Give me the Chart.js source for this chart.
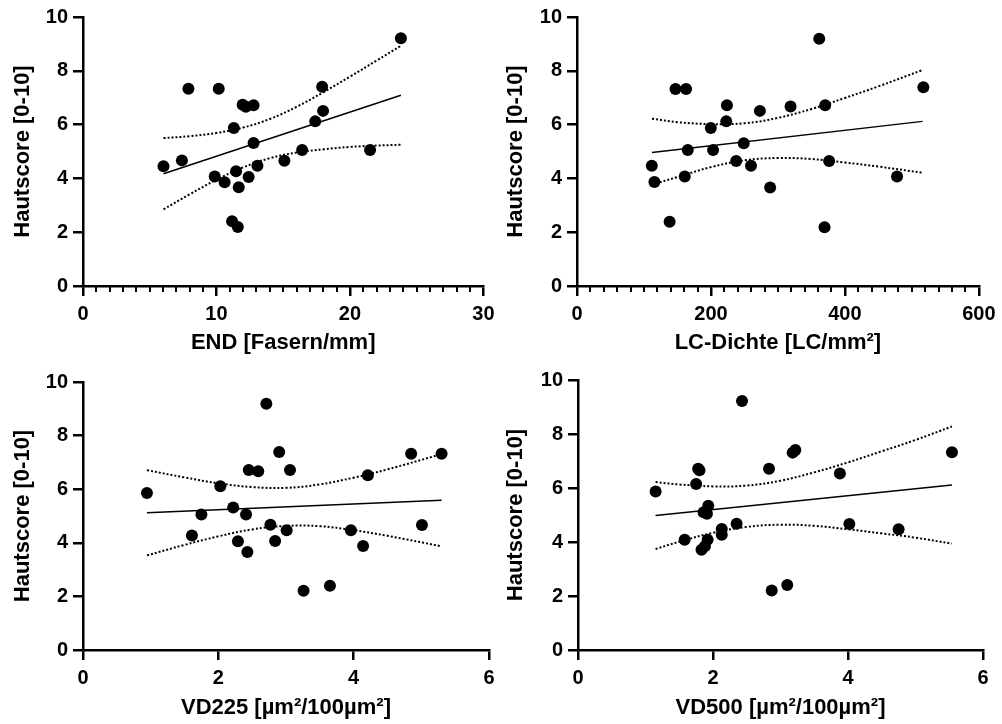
<!DOCTYPE html>
<html>
<head>
<meta charset="utf-8">
<script src="https://cdn.jsdelivr.net/npm/chart.js@4.4.1/dist/chart.umd.min.js"></script>
<style>
  html, body { margin: 0; padding: 0; background: #fff; }
  #wrap { position: relative; width: 1002px; height: 724px; }
  .panel { position: absolute; width: 501px; height: 362px; }
</style>
</head>
<body>
<div id="wrap">
  <div class="panel" style="left:0;top:0"><canvas id="c1" width="501" height="362"></canvas></div>
  <div class="panel" style="left:501px;top:0"><canvas id="c2" width="501" height="362"></canvas></div>
  <div class="panel" style="left:0;top:362px"><canvas id="c3" width="501" height="362"></canvas></div>
  <div class="panel" style="left:501px;top:362px"><canvas id="c4" width="501" height="362"></canvas></div>
</div>
<script>
// Hautscore vs. END
const endX = [6.03, 7.41, 7.90, 10.17, 9.87, 10.61, 11.30, 11.47, 11.67, 11.17, 11.60, 11.96, 12.21, 12.78, 12.78, 12.41, 13.07, 15.09, 16.42, 17.40, 17.92, 17.99, 21.51, 23.82];
const endScore = [4.45, 4.67, 7.33, 7.33, 4.07, 3.86, 5.87, 4.27, 3.67, 2.41, 2.19, 6.74, 6.66, 6.72, 5.32, 4.05, 4.47, 4.66, 5.06, 6.12, 7.41, 6.51, 5.06, 9.21];
const endFitX = [6.03, 23.82];
const endFitY = [4.17, 7.09];
const endBandX = [6.03, 8, 10, 12, 14, 16, 18, 20, 22, 23.82];
const endUpper = [5.50, 5.57, 5.69, 5.89, 6.21, 6.66, 7.20, 7.78, 8.38, 8.93];
const endLower = [2.85, 3.41, 3.95, 4.41, 4.75, 4.96, 5.08, 5.17, 5.22, 5.25];

// Hautscore vs. LC-Dichte
const lcX = [111.7, 115.6, 138.3, 147.1, 162.9, 160.9, 165.4, 199.8, 203.2, 223.9, 222.9, 237.7, 249.0, 259.8, 273.1, 288.4, 318.9, 361.7, 370.6, 369.6, 376.5, 477.9, 517.2];
const lcScore = [4.47, 3.87, 2.39, 7.32, 7.32, 4.07, 5.06, 5.87, 5.06, 6.72, 6.12, 4.65, 5.31, 4.47, 6.51, 3.66, 6.67, 9.19, 6.72, 2.18, 4.65, 4.07, 7.39];
const lcFitX = [112, 516];
const lcFitY = [4.96, 6.12];
const lcBandX = [112, 150, 200, 250, 300, 350, 400, 450, 516];
const lcUpper = [6.22, 6.09, 6.02, 6.05, 6.25, 6.58, 6.99, 7.42, 8.03];
const lcLower = [3.77, 4.05, 4.42, 4.67, 4.76, 4.72, 4.59, 4.44, 4.21];

// Hautscore vs. VD225
const vd225X = [0.945, 1.61, 1.75, 2.03, 2.22, 2.29, 2.43, 2.45, 2.41, 2.59, 2.71, 2.77, 2.90, 2.84, 3.01, 3.06, 3.26, 3.65, 3.96, 4.14, 4.21, 4.85, 5.01, 5.30];
const vd225Score = [5.86, 4.27, 5.06, 6.11, 5.32, 4.06, 3.66, 6.72, 5.06, 6.67, 9.19, 4.67, 7.39, 4.07, 4.47, 6.72, 2.21, 2.40, 4.47, 3.88, 6.52, 7.32, 4.66, 7.32];
const vd225FitX = [0.945, 5.30];
const vd225FitY = [5.12, 5.59];
const vd225BandX = [0.945, 1.5, 2, 2.5, 3, 3.5, 4, 4.5, 5.3];
const vd225Upper = [6.71, 6.44, 6.22, 6.08, 6.05, 6.18, 6.43, 6.74, 7.31];
const vd225Lower = [3.53, 3.92, 4.24, 4.50, 4.63, 4.62, 4.47, 4.26, 3.87];

// Hautscore vs. VD500
const vd500X = [1.15, 1.58, 1.75, 1.78, 1.80, 1.86, 1.91, 1.93, 1.92, 1.88, 1.83, 2.13, 2.13, 2.35, 2.43, 2.83, 2.87, 3.10, 3.18, 3.22, 3.88, 4.02, 4.75, 5.54];
const vd500Score = [5.87, 4.08, 6.15, 6.71, 6.66, 5.10, 5.05, 5.34, 4.08, 3.84, 3.71, 4.48, 4.27, 4.68, 9.22, 6.71, 2.20, 2.41, 7.31, 7.41, 6.54, 4.67, 4.47, 7.32];
const vd500FitX = [1.149, 5.54];
const vd500FitY = [4.98, 6.11];
const vd500BandX = [1.149, 1.5, 2, 2.5, 3, 3.5, 4, 4.5, 5, 5.54];
const vd500Upper = [6.22, 6.13, 6.06, 6.09, 6.27, 6.58, 6.95, 7.36, 7.78, 8.28];
const vd500Lower = [3.74, 4.01, 4.34, 4.56, 4.64, 4.60, 4.47, 4.32, 4.16, 3.94];

const yTicks = [0, 2, 4, 6, 8, 10];
const FONT = "'Liberation Sans', Arial, sans-serif";

// little extra ticks between the labelled ones (Chart.js has none of its own)
const minorTicks = {
  id: 'minorTicks',
  afterDraw(chart, args, opts) {
    if (!opts.step) return;
    const x = chart.scales.x;
    const ctx = chart.ctx;
    ctx.save();
    ctx.strokeStyle = '#000';
    ctx.lineWidth = 2;
    const n = Math.round((x.max - x.min) / opts.step);
    for (let i = 1; i < n; i++) {
      const px = Math.round(x.getPixelForValue(x.min + i * opts.step));
      ctx.beginPath();
      ctx.moveTo(px, x.top);
      ctx.lineTo(px, x.top + 6);
      ctx.stroke();
    }
    ctx.restore();
  }
};

function pairs(xs, ys) {
  return xs.map((x, i) => ({ x, y: ys[i] }));
}

function makePanel(p) {
  const W = 501, H = 362;
  new Chart(document.getElementById(p.id), {
    type: 'scatter',
    data: {
      datasets: [
        {
          data: pairs(p.xs, p.ys),
          backgroundColor: '#000',
          borderWidth: 0,
          pointRadius: 6,
        },
        {
          data: pairs(p.fitX, p.fitY),
          showLine: true,
          borderColor: '#000',
          borderWidth: 1.5,
          pointRadius: 0,
        },
        {
          data: pairs(p.bandX, p.upper),
          showLine: true,
          borderColor: '#000',
          borderWidth: 2,
          borderDash: [2, 2],
          tension: 0.4,
          pointRadius: 0,
        },
        {
          data: pairs(p.bandX, p.lower),
          showLine: true,
          borderColor: '#000',
          borderWidth: 2,
          borderDash: [2, 2],
          tension: 0.4,
          pointRadius: 0,
        },
      ],
    },
    options: {
      responsive: false,
      animation: false,
      events: [],
      layout: {
        padding: { left: 0, top: p.area.top, right: W - p.area.right, bottom: 0 },
      },
      plugins: {
        legend: { display: false },
        tooltip: { enabled: false },
        minorTicks: { step: p.minor },
      },
      scales: {
        x: {
          type: 'linear',
          min: 0,
          max: p.xMax,
          afterFit: (s) => { s.height = H - p.area.bottom; },
          ticks: {
            stepSize: p.xStep,
            padding: 6.5,
            color: '#000',
            font: { family: FONT, size: 20, weight: 'bold' },
          },
          grid: { display: true, drawOnChartArea: false, drawTicks: true, tickLength: 10, lineWidth: 2.5, color: '#000' },
          border: { display: true, width: 2.5, color: '#000' },
          title: {
            display: true,
            text: p.xTitle,
            color: '#000',
            padding: { top: 0, bottom: p.xTitlePad },
            font: { family: FONT, size: 22, weight: 'bold' },
          },
        },
        y: {
          min: 0,
          max: 10,
          afterFit: (s) => { s.width = p.area.left; },
          afterBuildTicks: (s) => { s.ticks = yTicks.map((v) => ({ value: v })); },
          ticks: {
            padding: 5,
            color: '#000',
            font: { family: FONT, size: 20, weight: 'bold' },
          },
          grid: { display: true, drawOnChartArea: false, drawTicks: true, tickLength: 10, lineWidth: 2.5, color: '#000' },
          border: { display: true, width: 2.5, color: '#000' },
          title: {
            display: true,
            text: 'Hautscore [0-10]',
            color: '#000',
            padding: { top: p.yTitlePad, bottom: 0 },
            font: { family: FONT, size: 22, weight: 'bold' },
          },
        },
      },
    },
    plugins: [minorTicks],
  });
}

makePanel({
  id: 'c1', xs: endX, ys: endScore, fitX: endFitX, fitY: endFitY,
  bandX: endBandX, upper: endUpper, lower: endLower,
  xMax: 30, xStep: 10, minor: 1, xTitle: 'END [Fasern/mm]',
  area: { left: 83, right: 489, top: 16, bottom: 286 }, xTitlePad: 6, yTitlePad: 10,
});
makePanel({
  id: 'c2', xs: lcX, ys: lcScore, fitX: lcFitX, fitY: lcFitY,
  bandX: lcBandX, upper: lcUpper, lower: lcLower,
  xMax: 600, xStep: 200, minor: 20, xTitle: 'LC-Dichte [LC/mm²]',
  area: { left: 76, right: 482, top: 17, bottom: 286 }, xTitlePad: 6, yTitlePad: 1.5,
});
makePanel({
  id: 'c3', xs: vd225X, ys: vd225Score, fitX: vd225FitX, fitY: vd225FitY,
  bandX: vd225BandX, upper: vd225Upper, lower: vd225Lower,
  xMax: 6, xStep: 2, minor: 0, xTitle: 'VD225 [µm²/100µm²]',
  area: { left: 83, right: 489, top: 20, bottom: 288 }, xTitlePad: 3, yTitlePad: 9.5,
});
makePanel({
  id: 'c4', xs: vd500X, ys: vd500Score, fitX: vd500FitX, fitY: vd500FitY,
  bandX: vd500BandX, upper: vd500Upper, lower: vd500Lower,
  xMax: 6, xStep: 2, minor: 0, xTitle: 'VD500 [µm²/100µm²]',
  area: { left: 77, right: 482, top: 18, bottom: 288 }, xTitlePad: 3, yTitlePad: 2,
});
</script>
</body>
</html>
